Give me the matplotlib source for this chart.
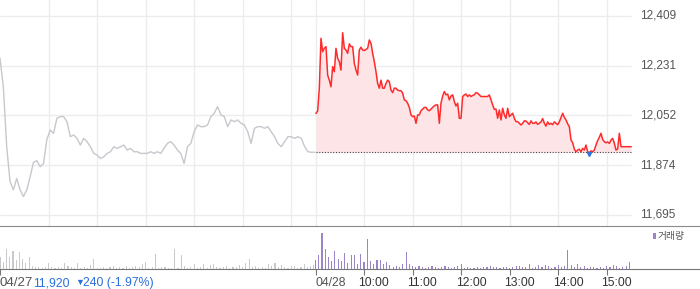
import numpy as np
import matplotlib
matplotlib.use("Agg")
import matplotlib.pyplot as plt
import matplotlib.transforms as mtransforms
from matplotlib.patches import Rectangle

plt.rcParams['font.family'] = ['Liberation Sans', 'DejaVu Sans', 'Noto Sans CJK KR']

prev_close = 11920
price_ticks = [11695, 11874, 12052, 12231, 12409]
hour_labels = ['10:00', '11:00', '12:00', '13:00', '14:00', '15:00']

# 04/27 (previous day), gray line
day1_price = [12257, 12155, 11940, 11815, 11785, 11826, 11785, 11761, 11785, 11832,
              11884, 11890, 11868, 11880, 11966, 12000, 11988, 12042, 12048, 12048,
              12030, 11976, 11982, 11970, 11946, 11970, 11958, 11940, 11916, 11910,
              11898, 11904, 11916, 11922, 11940, 11934, 11940, 11946, 11928, 11934,
              11922, 11922, 11916, 11916, 11916, 11922, 11916, 11922, 11916, 11934,
              11952, 11958, 11946, 11928, 11916, 11880, 11940, 11952, 11994, 12018,
              12012, 12012, 12018, 12048, 12060, 12084, 12054, 12048, 12012, 12036,
              12030, 12036, 12024, 12018, 11994, 11952, 12006, 12012, 12012, 12006,
              12012, 11994, 11976, 11952, 11940, 11958, 11976, 11976, 11970, 11976,
              11970, 11940, 11922, 11920, 11920]

# 04/28 (today), red line
day2_price = [12060, 12068, 12150, 12329, 12281, 12293, 12299, 12197, 12179, 12155,
              12227, 12209, 12293, 12257, 12245, 12215, 12349, 12293, 12287, 12275,
              12309, 12299, 12299, 12239, 12215, 12197, 12287, 12297, 12287, 12285,
              12289, 12293, 12323, 12311, 12275, 12245, 12209, 12167, 12150, 12179,
              12150, 12150, 12167, 12179, 12173, 12143, 12134, 12150, 12150, 12143,
              12141, 12141, 12132, 12108, 12105, 12096, 12081, 12054, 12048, 12050,
              12024, 12054, 12054,
              12069, 12075, 12081, 12081, 12072, 12069, 12075, 12081, 12087, 12090,
              12090, 12024, 12096, 12122, 12138, 12126, 12129, 12108, 12122, 12126,
              12102, 12086, 12096, 12042, 12042, 12120, 12126, 12129, 12120, 12126,
              12120, 12124, 12126, 12134, 12132, 12126, 12120, 12120, 12120, 12120,
              12120, 12126, 12108, 12090, 12074, 12075, 12042, 12072, 12036, 12078,
              12054, 12042, 12078, 12048, 12054, 12060, 12042, 12030, 12030, 12024,
              12018, 12024, 12033, 12032, 12026, 12020, 12033, 12024, 12024, 12029,
              12020, 12024, 12029, 12041, 12024, 12014, 12029, 12020, 12024, 12019,
              12029, 12024, 12019, 12029, 12045, 12060, 12045, 12036, 12022, 12012,
              11964, 11954, 11931, 11922, 11928, 11931, 11922, 11934, 11928, 11946,
              11922, 11919, 11925, 11922, 11928, 11946, 11962, 11974, 11988, 11966,
              11958, 11954, 11957, 11952, 11964, 11970, 11952, 11928, 11932, 11988,
              11940, 11940, 11940, 11940, 11940, 11940, 11940]

day1_vol = [12, 7, 20, 12, 18, 9, 17, 10, 6, 12,
            3, 2, 2, 1, 2, 6, 2, 1, 2, 1,
            6, 3, 2, 1, 6, 1, 2, 1, 4, 10,
            1, 1, 2, 1, 2, 3, 1, 2, 1, 3,
            1, 2, 3, 2, 5, 7, 1, 2, 15, 1,
            2, 2, 1, 1, 20, 1, 14, 3, 1, 2,
            5, 1, 2, 5, 1, 4, 5, 2, 1, 2,
            3, 1, 2, 2, 4, 2, 6, 10, 2, 3,
            1, 2, 1, 5, 3, 6, 2, 4, 2, 1,
            3, 3, 1, 2, 5, 2, 3, 4]

day2_vol = [9, 14, 36, 20, 12, 8, 18, 10, 8, 16,
            6, 14, 14, 5, 15, 7, 30, 8, 5, 9,
            9, 5, 7, 4, 2, 3, 2, 5, 17, 5,
            3, 2, 3, 2, 1, 2, 3, 2, 1, 2,
            3, 2, 1, 2, 3, 5, 1, 2, 1, 1,
            2, 1, 2, 2, 3, 2, 2, 1, 2, 2,
            1, 2, 3, 3, 2, 2, 5, 1, 2, 4,
            2, 4, 3, 1, 2, 4, 2, 3, 19, 4,
            2, 5, 2, 3, 1, 2, 2, 1, 2, 1,
            3, 2, 4, 3, 1, 2, 3, 7]

# time axis in minutes from 04/27 09:00, each session is 390 minutes
t1 = np.linspace(0, 389, len(day1_price))
t2 = np.linspace(390.6, 780, len(day2_price))
v1 = np.arange(len(day1_vol)) * 4
v2 = 390 + np.arange(len(day2_vol)) * 4
xmax = 780 * 700 / 631
grid_x = [60, 120, 180, 240, 300, 360, 390, 450, 510, 570, 630, 690, 750]

fig = plt.figure(figsize=(7, 2.89), dpi=100)

ax = fig.add_axes([0, 1 - 226 / 289, 1, 226 / 289])
ax.set_xlim(0, xmax)
ax.set_ylim(11655.5, 12466.4)
for gx in grid_x:
    ax.axvline(gx, color='#ececec', lw=1, zorder=0)
ax.hlines(price_ticks, 0, 780, colors='#ececec', lw=1, zorder=0)

ax.fill_between(t2, day2_price, prev_close, color='#fde4e7', lw=0, zorder=1)
ax.plot(t1, day1_price, color='#c6c8cd', lw=1, zorder=2)
ax.plot(t2, day2_price, color='#ff2b2b', lw=1.1, zorder=3)
ax.hlines(prev_close, 390, 780, colors='#444444', linestyles=(0, (1, 1.5)), lw=0.8, zorder=3)
i_low = int(np.argmin(day2_price))
ax.plot(t2[i_low], day2_price[i_low] - 5, marker='v', ms=3, color='#2f73e0', zorder=4)

trans = mtransforms.blended_transform_factory(ax.transAxes, ax.transData)
for p in price_ticks:
    ax.text(640 / 700, p, f'{p:,}', transform=trans, ha='left', va='center',
            fontsize=8.5, color='#555555')

for s in ['top', 'left', 'right']:
    ax.spines[s].set_visible(False)
ax.spines['bottom'].set_color('#8a8a8a')
ax.set_xticks([])
ax.set_yticks([])

# volume panel
vax = fig.add_axes([0, 1 - 268.5 / 289, 1, 42.5 / 289])
vax.patch.set_alpha(0)
vax.set_xlim(0, xmax)
vax.set_ylim(0, 42.5)
vax.bar(v1, day1_vol, width=1.4, color='#c8c9cd', lw=0)
vax.bar(v2, day2_vol, width=1.4, color='#9b84c8', lw=0)
for s in ['top', 'left', 'right']:
    vax.spines[s].set_visible(False)
vax.spines['bottom'].set_color('#777777')
vax.set_yticks([])
vax.set_xticks([0, 390, 450, 510, 570, 630, 690, 750])
vax.set_xticklabels([])
vax.tick_params(axis='x', direction='out', length=4, color='#777777')

lab_kw = dict(xycoords=('data', 'axes fraction'), textcoords='offset pixels',
              va='center', ha='left')
vax.annotate('04/27', xy=(0, 0), xytext=(0, -14.5), color='#555555', fontsize=9.6, **lab_kw)
vax.annotate('11,920', xy=(0, 0), xytext=(33, -14.5), color='#2a6fdb', fontsize=8.8, **lab_kw)
vax.annotate('▼', xy=(0, 0), xytext=(75, -14), color='#2a6fdb', fontsize=6.5, **lab_kw)
vax.annotate('240 (-1.97%)', xy=(0, 0), xytext=(83, -14.5), color='#2a6fdb', fontsize=8.8, **lab_kw)
vax.annotate('04/28', xy=(390, 0), xytext=(0, -14.5), color='#555555', fontsize=8.8, **lab_kw)
for h, lab in zip([450, 510, 570, 630, 690, 750], hour_labels):
    vax.annotate(lab, xy=(h, 0), xytext=(-5.5, -14.5), color='#333333', fontsize=8.7, **lab_kw)

# legend
fig.add_artist(Rectangle((653 / 700, 1 - 239 / 289), 2.5 / 700, 6 / 289,
                         transform=fig.transFigure, color='#9b84c8', lw=0))
fig.text(658 / 700, 1 - 236 / 289, '거래량', ha='left', va='center', fontsize=7,
         color='#555555', family=['Noto Sans CJK KR', 'DejaVu Sans'])

fig.savefig('out.png', dpi=100)
